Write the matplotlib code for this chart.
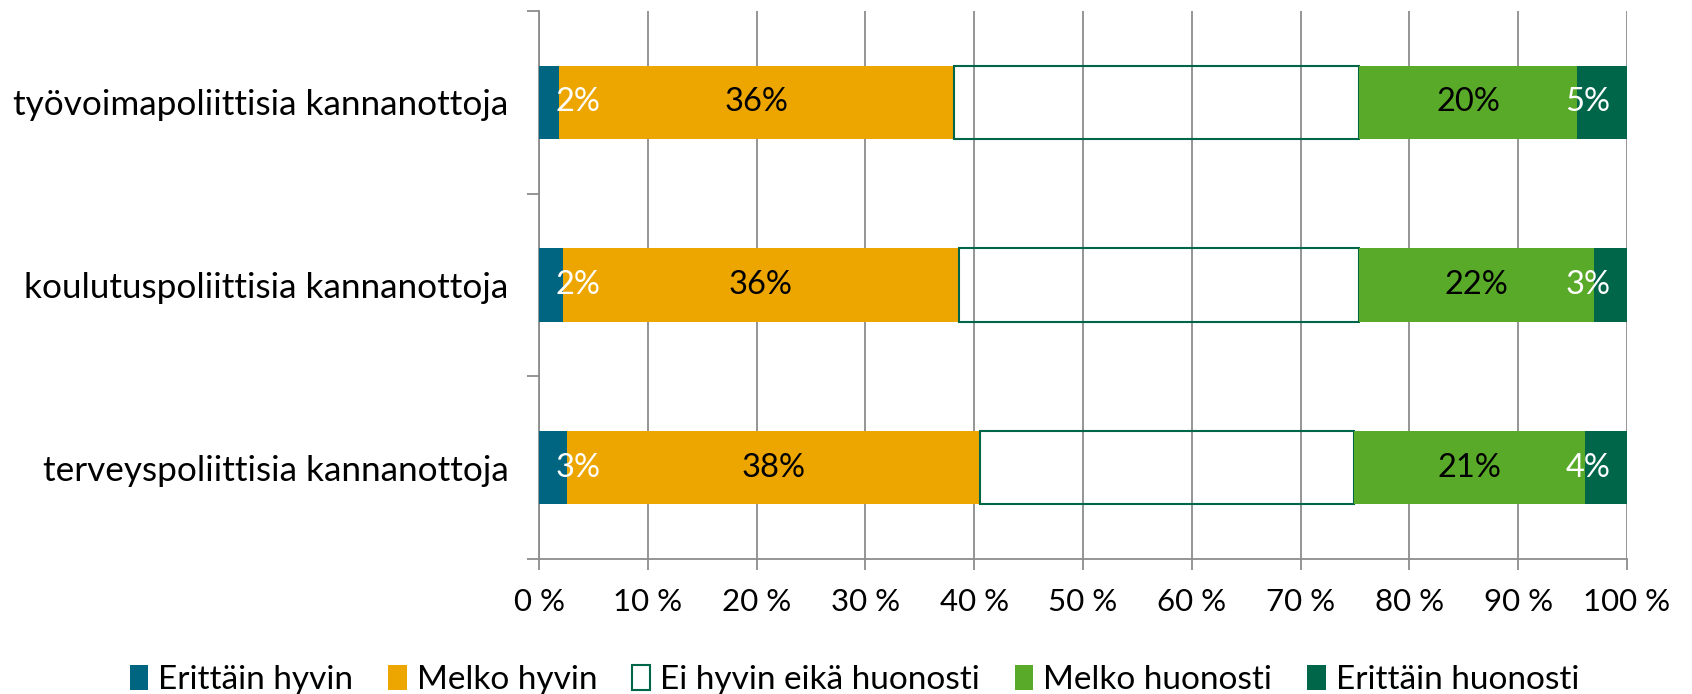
import matplotlib
matplotlib.use("Agg")
import matplotlib.pyplot as plt
from matplotlib.patches import Patch

# --- DATA ---
categories = ["työvoimapoliittisia kannanottoja",
              "koulutuspoliittisia kannanottoja",
              "terveyspoliittisia kannanottoja"]
series_names = ["Erittäin hyvin", "Melko hyvin", "Ei hyvin eikä huonosti",
                "Melko huonosti", "Erittäin huonosti"]
erittain_hyvin = [1.8, 2.2, 2.6]
melko_hyvin = [36.3, 36.4, 37.9]
ei_hyvin_eika = [37.3, 36.8, 34.4]
melko_huonosti = [20.0, 21.6, 21.2]
erittain_huonosti = [4.6, 3.0, 3.9]
x_ticks = [0, 10, 20, 30, 40, 50, 60, 70, 80, 90, 100]

# --- STYLE ---
plt.rcParams['font.family'] = ["Lato", "DejaVu Sans"]
FS_CAT = 25.3
FS_TICK = 22.5
FS_LAB = 23.5
FS_LEG = 24
GRID = "#8C8C8C"
colors = ["#006580", "#EDA600", "none", "#5AAA2A", "#00664A"]
edge_white = "#00664A"
label_colors = ["white", "black", None, "black", "white"]

fig = plt.figure(figsize=(16.92, 6.94), dpi=100)
ax = fig.add_axes([539 / 1692, 1 - 559 / 694, (1627 - 539) / 1692, (559 - 11) / 694])

series = [erittain_hyvin, melko_hyvin, ei_hyvin_eika, melko_huonosti, erittain_huonosti]
ypos = list(range(len(categories)))
left = [0.0] * len(categories)
for i, vals in enumerate(series):
    if colors[i] == "none":
        ax.barh(ypos, vals, left=left, height=0.4, facecolor="none",
                edgecolor=edge_white, linewidth=1.5, zorder=3)
    else:
        ax.barh(ypos, vals, left=left, height=0.4, color=colors[i],
                linewidth=0, zorder=3)
    if label_colors[i] is not None:
        for j, v in enumerate(vals):
            cx = left[j] + v / 2
            # keep end labels inside the plot area (like Excel does)
            cx = min(max(cx, 3.6), 96.4)
            ax.text(cx, j, f"{round(v)}%", ha="center", va="center",
                    fontsize=FS_LAB, color=label_colors[i], zorder=5)
    left = [l + v for l, v in zip(left, vals)]

ax.set_xlim(0, 100)
ax.set_ylim(2.5, -0.5)
ax.set_xticks(x_ticks)
ax.set_xticklabels([f"{t} %" for t in x_ticks], fontsize=FS_TICK)
ax.xaxis.grid(True, color=GRID, linewidth=1.3, zorder=0)
ax.set_axisbelow(True)

ax.set_yticks([-0.5, 0.5, 1.5, 2.5])
ax.set_yticklabels([])
ax.set_yticks(ypos, minor=True)
ax.set_yticklabels(categories, minor=True, fontsize=FS_CAT)
ax.tick_params(axis="y", which="major", length=9, width=1.3, color=GRID, direction="out")
ax.tick_params(axis="y", which="minor", length=0, pad=22)
ax.tick_params(axis="x", length=8, width=1.3, color=GRID, direction="out", pad=13)

for s in ["top", "right"]:
    ax.spines[s].set_visible(False)
for s in ["left", "bottom"]:
    ax.spines[s].set_color(GRID)
    ax.spines[s].set_linewidth(1.3)

handles = []
for i, name in enumerate(series_names):
    if colors[i] == "none":
        handles.append(Patch(facecolor="white", edgecolor=edge_white, linewidth=1.5, label=name))
    else:
        handles.append(Patch(facecolor=colors[i], edgecolor="none", label=name))
fig.legend(handles=handles, loc="center", bbox_to_anchor=(0.505, 0.02), ncol=5,
           frameon=False, fontsize=FS_LEG, handlelength=0.55, handleheight=0.8,
           handletextpad=0.3, columnspacing=1.05)

fig.savefig("out.png", dpi=100)
